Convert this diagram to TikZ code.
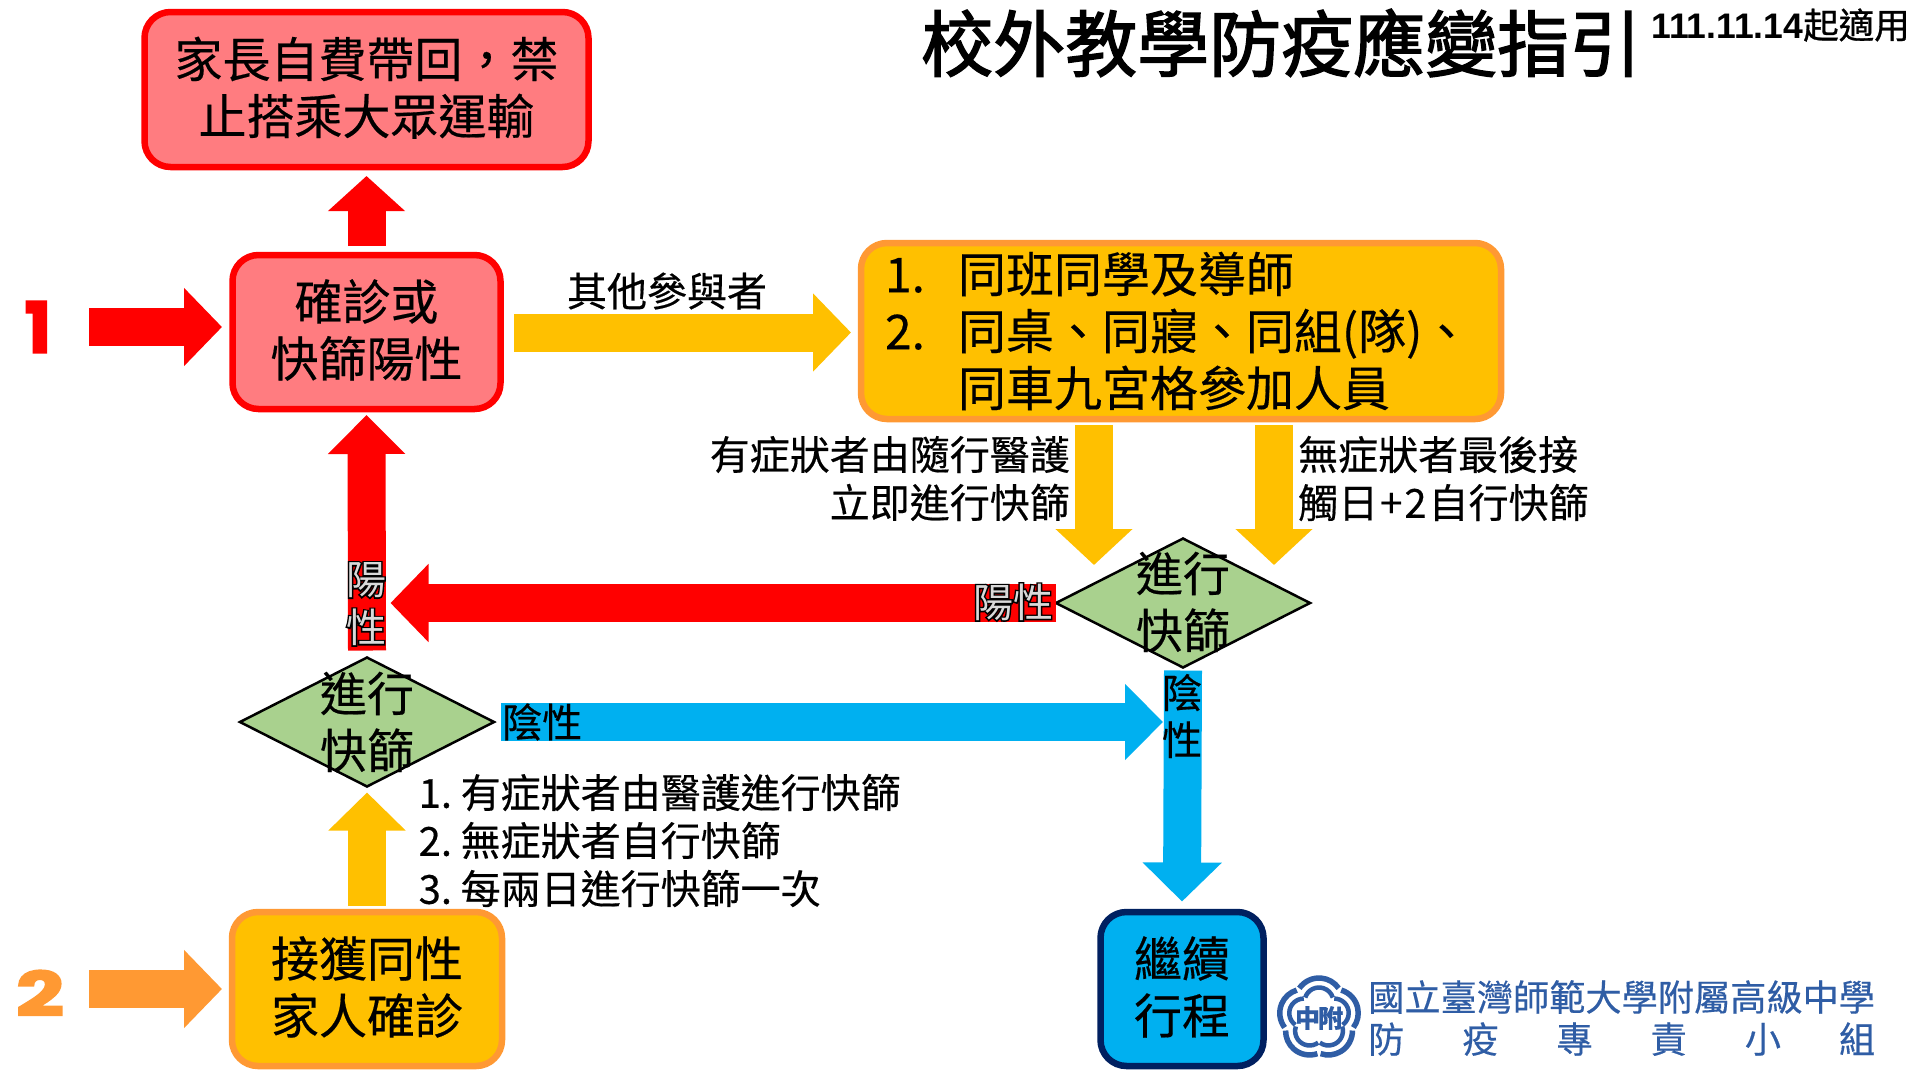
\documentclass[tikz,border=0pt]{standalone}
\usepackage{fontspec}
\setmainfont[FakeBold=0.4]{Noto Sans CJK TC}
\newfontfamily\thinfont{Noto Sans CJK TC}
\newfontfamily\titlefont[FakeBold=2]{Noto Sans CJK TC}
\newfontfamily\heavyfont[FakeBold=7]{Noto Sans CJK TC}
\newfontfamily\numfont[FakeBold=3]{Poppins Bold}
\newfontfamily\datefont{Liberation Sans Bold}
\newfontfamily\datecjk[FakeBold=0.8]{Noto Sans CJK TC}
\usetikzlibrary{arrows.meta,shapes.geometric,calc}
\definecolor{redfill}{HTML}{FF7C80}
\definecolor{amber}{HTML}{FFC000}
\definecolor{orangeline}{HTML}{FF9933}
\definecolor{skyblue}{HTML}{00B0F0}
\definecolor{navyline}{HTML}{002060}
\definecolor{greenfill}{HTML}{A9D18E}
\definecolor{logoblue}{HTML}{2F5DA5}
\newcommand{\fs}[2]{\fontsize{#1}{#2}\selectfont}
\tikzset{
  flowbox/.style={rounded corners=26pt,line width=6.5pt,outer sep=0pt,inner sep=0pt,align=center,font=\fs{48}{57},text=black},
  redbox/.style={flowbox,draw=red,fill=redfill,text depth=8pt},
  amberbox/.style={flowbox,draw=orangeline,fill=amber},
  bluebox/.style={flowbox,draw=navyline,fill=skyblue,text depth=8pt},
  testshape/.style={diamond,draw=black,fill=greenfill,line width=2.5pt,aspect=1.97,minimum width=254pt,minimum height=129pt,inner sep=0pt,outer sep=0pt},
  testtext/.style={align=center,font=\fs{47}{57},inner sep=0pt},
  note/.style={font=\fs{40}{48},inner sep=0pt,text=black},
  blockarrow/.style={line width=38pt,-{Triangle[length=38pt,width=76pt]}},
  hollowback/.style={inner sep=0pt,text=black,align=center,font=\heavyfont\fs{40}{48}},
  hollowfront/.style={inner sep=0pt,text=white!85!black,align=center,font=\thinfont\fs{40}{48}},
  lobe/.style={line width=5.5pt,draw=logoblue},
  lobein/.style={line width=4.5pt,draw=logoblue},
}
\begin{document}
\begin{tikzpicture}[x=1pt,y=-1pt]
\useasboundingbox[fill=white] (0,0) rectangle (1920,1080);

% title
\node[inner sep=0pt,anchor=west,font=\titlefont\fs{72}{72}] (title) at (921,43) {校外教學防疫應變指引};
\node[inner sep=0pt,anchor=west,font=\datecjk\fs{35.5}{35.5}] (date) at (1651,25) {{\datefont 111.11.14}起適用};

% boxes
\node[redbox,minimum width=444pt,minimum height=155pt] (home) at (366.5,89.5) {家長自費帶回，禁\\止搭乘大眾運輸};
\node[redbox,minimum width=268pt,minimum height=154pt] (conf) at (366.5,332) {確診或\\快篩陽性};
\node[amberbox,inner xsep=24pt,text width=592pt,minimum height=176pt,align=left] (group) at (1181,331) {\makebox[73pt][l]{1.}同班同學及導師\\\makebox[73pt][l]{2.}同桌、同寢、同組(隊)、\\\hspace*{73pt}同車九宮格參加人員};
\node[amberbox,minimum width=270pt,minimum height=154pt,text depth=8pt] (family) at (367,989) {接獲同性\\家人確診};
\node[bluebox,minimum width=163pt,minimum height=154pt] (cont) at (1182,989) {繼續\\行程};

% decision shapes
\node[testshape] (testR) at (1183,603) {};
\node[testtext] (testRt) at (1183,602) {進行\\快篩};
\node[testshape] (testL) at (367,722) {};
\node[testtext] (testLt) at (367,722) {進行\\快篩};

% free ends
\coordinate (oneS) at (89,327);
\coordinate (twoS) at (89,989);

% red arrows
\draw[blockarrow,red,-{Triangle[length=35pt,width=75pt]}] ([yshift=9pt]conf.north) -- ([yshift=-9pt]home.south);
\draw[blockarrow,red] (oneS) -- (222,327) coordinate (oneE);
\draw[blockarrow,red,-{Triangle[length=39pt,width=75pt]}] ([yshift=7pt]testL.north) -- ([yshift=-6pt]conf.south);
\draw[blockarrow,red] (testR.west) -- (390.5,603) coordinate (posE);

% amber arrows
\draw[blockarrow,amber] ($(conf.east)+(13.5,0.5)$) -- ($(group.west)+(-10,1.5)$);
\draw[blockarrow,amber,-{Triangle[length=36pt,width=75pt]}] (1094,425) coordinate (dlS) -- (1094,565) coordinate (dlE);
\draw[blockarrow,amber,-{Triangle[length=36pt,width=75pt]}] (1274,425) coordinate (drS) -- (1274,565) coordinate (drE);
\draw[blockarrow,amber,-{Triangle[length=38pt,width=75pt]}] ([yshift=6pt]family.north) -- ([yshift=-6pt]testL.south);

% orange arrow
\draw[blockarrow,orangeline] (twoS) -- (222,989) coordinate (twoE);

% blue arrows
\draw[blockarrow,skyblue,-{Triangle[length=39pt,width=77pt]}] ([yshift=-3pt]testR.south) -- ([yshift=10.5pt]cont.north);
\draw[blockarrow,skyblue,-{Triangle[length=38pt,width=74pt]}] ([xshift=7pt]testL.east) -- (1163,722) coordinate (negE);

% side numbers
\node[inner sep=0pt,text=red,font=\numfont\fs{70}{70},xscale=1.0] (numA) at (38,327) {1};
\node[inner sep=0pt,text=orangeline,font=\numfont\fs{64}{64},xscale=1.3,yscale=0.95] (numB) at (40,993) {2};

% labels on arrows
\node[note] (other) at (667,291) {其他參與者};
\node[note,anchor=east,align=right] (symp) at (1070,478.5) {有症狀者由隨行醫護\\立即進行快篩};
\node[note,anchor=west,align=left] (asymp) at (1298,478.5) {無症狀者最後接\\觸日\kern2pt+\kern2pt 2\kern2pt 自行快篩};
\node[note,anchor=west,align=left] (steps) at (418.5,840.5) {\makebox[42pt][l]{1.}有症狀者由醫護進行快篩\\\makebox[42pt][l]{2.}無症狀者自行快篩\\\makebox[42pt][l]{3.}每兩日進行快篩一次};

\node[hollowback] (posA) at (1013,602) {陽性};
\node[hollowfront] (posAf) at (posA) {陽性};
\node[hollowback] (posB) at (366,604) {陽\\性};
\node[hollowfront] (posBf) at (posB) {陽\\性};
\node[note,anchor=west] (negA) at (502,722) {陰性};
\node[note,align=center,font=\fs{40}{47}] (negB) at (1182,716) {陰\\性};

% logo
\coordinate (logoC) at (1319,1018);
\foreach \a in {90,18,-54,-126,162}{
  \draw[lobe] ($(logoC)+(\a:16pt)+(\a+55:24pt)$) arc[start angle=\a+55,end angle=\a-55,radius=24pt];
  \draw[lobein] ($(logoC)+(\a:16pt)+(\a+72:14.5pt)$) arc[start angle=\a+72,end angle=\a-72,radius=14.5pt];
}
\node[inner sep=0pt,text=logoblue,font=\bfseries\fs{25}{25}] (logoT) at (logoC) {中\kern-2pt 附};
\node[inner sep=0pt,anchor=west,align=left,text=logoblue,font=\fs{36.2}{42}] (school) at (1368,1018) {國立臺灣師範大學附屬高級中學\\\makebox[507pt][s]{防\hfill 疫\hfill 專\hfill 責\hfill 小\hfill 組}};
\end{tikzpicture}
\end{document}
